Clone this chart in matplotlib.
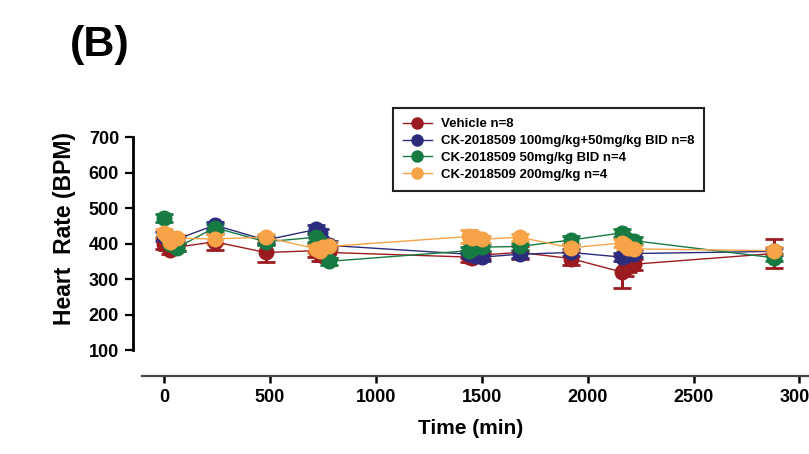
import matplotlib.pyplot as plt
from matplotlib.lines import Line2D

# Sampling times (min)
times = [0, 15, 30, 60, 240, 480, 720, 735, 750, 780, 1440, 1455, 1470, 1500,
         1680, 1920, 2160, 2175, 2190, 2220, 2880]

# Mean heart rate (BPM) and SEM per group
vehicle = [400, 395, 382, 390, 405, 375, 380, 372, 365, 375, 362, 360, 365, 368,
           375, 358, 320, 330, 335, 342, 372]
vehicle_err = [15, 12, 10, 12, 22, 26, 18, 20, 15, 15, 14, 12, 12, 12,
               18, 18, 45, 20, 15, 15, 40]

ck_bid_high = [420, 415, 410, 412, 452, 410, 440, 430, 400, 395, 370, 375, 365, 362,
               370, 375, 362, 365, 370, 372, 378]
ck_bid_high_err = [12, 10, 10, 10, 10, 10, 12, 12, 12, 12, 10, 10, 10, 10,
                   10, 10, 12, 12, 10, 10, 10]

ck_bid_low = [472, 420, 400, 388, 445, 405, 418, 405, 395, 350, 380, 385, 390, 390,
              392, 410, 430, 415, 410, 408, 360]
ck_bid_low_err = [12, 12, 10, 10, 10, 10, 14, 12, 12, 10, 10, 10, 10, 10,
                  10, 10, 12, 10, 10, 10, 10]

ck_single = [430, 420, 405, 415, 413, 418, 385, 380, 390, 392, 420, 415, 418, 412,
             418, 388, 402, 395, 388, 385, 380]
ck_single_err = [12, 12, 12, 10, 14, 10, 12, 12, 12, 12, 18, 14, 12, 10,
                 10, 10, 12, 12, 10, 10, 10]

labels = ['Vehicle n=8',
          'CK-2018509 100mg/kg+50mg/kg BID n=8',
          'CK-2018509 50mg/kg BID n=4',
          'CK-2018509 200mg/kg n=4']
colors = ['#9B1C20', '#2C2C7C', '#167A42', '#F7A347']

fig = plt.figure(figsize=(8.09, 4.54), dpi=100)
ax = fig.add_axes([133 / 809, 78 / 454, 676 / 809, 246 / 454])

series = [(vehicle, vehicle_err), (ck_bid_high, ck_bid_high_err),
          (ck_bid_low, ck_bid_low_err), (ck_single, ck_single_err)]
for (vals, errs), c in zip(series, colors):
    ax.errorbar(times, vals, yerr=errs, fmt='o-', color=c, lw=1.0,
                ms=11.5, mec='none', elinewidth=2.2, capsize=6.5,
                capthick=2.0, clip_on=False)

ax.set_xlim(-146, 3045)
ax.set_ylim(27, 720)

# Prism-style detached axes
ax.spines['top'].set_visible(False)
ax.spines['right'].set_visible(False)
ax.spines['left'].set_bounds(100, 700)
ax.spines['left'].set_linewidth(2.0)
ax.spines['bottom'].set_bounds(-104, 3045)
ax.spines['bottom'].set_linewidth(1.6)
ax.spines['bottom'].set_color('#444444')

ax.set_yticks(range(100, 701, 100))
ax.set_xticks(range(0, 3001, 500))
ax.tick_params(axis='y', length=6, width=1.6, pad=4, labelsize=13)
ax.tick_params(axis='x', length=5, width=1.8, pad=4, labelsize=13)
for t in ax.get_yticklabels() + ax.get_xticklabels():
    t.set_fontweight('bold')
    t.set_family(['Liberation Sans', 'DejaVu Sans'])

ax.set_ylabel('Heart  Rate (BPM)', fontsize=16.5, fontweight='bold',
              family=['Liberation Sans', 'DejaVu Sans'])
ax.yaxis.set_label_coords(-0.084, 0.598)
ax.set_xlabel('Time (min)', fontsize=15, fontweight='bold',
              family=['Liberation Sans', 'DejaVu Sans'], labelpad=10)

fig.text(100 / 809, 1 - 45 / 454, '(B)', fontsize=31, fontweight='bold',
         family=['Liberation Sans', 'DejaVu Sans'], ha='center', va='center')

handles = [Line2D([0], [0], color=c, lw=1.0, marker='o', ms=9, mec='none')
           for c in colors]
leg = ax.legend(handles, labels, loc='upper left',
                bbox_to_anchor=(393 / 809, 1 - 108 / 454),
                bbox_transform=fig.transFigure, borderaxespad=0,
                frameon=True, fancybox=False,
                edgecolor='#222222', framealpha=1, handlelength=2.2,
                handletextpad=0.7, borderpad=0.75, labelspacing=0.36,
                prop={'family': ['Liberation Sans', 'DejaVu Sans'],
                      'weight': 'bold', 'size': 9.5})
leg.get_frame().set_linewidth(1.5)

fig.savefig('out.png', dpi=100)
